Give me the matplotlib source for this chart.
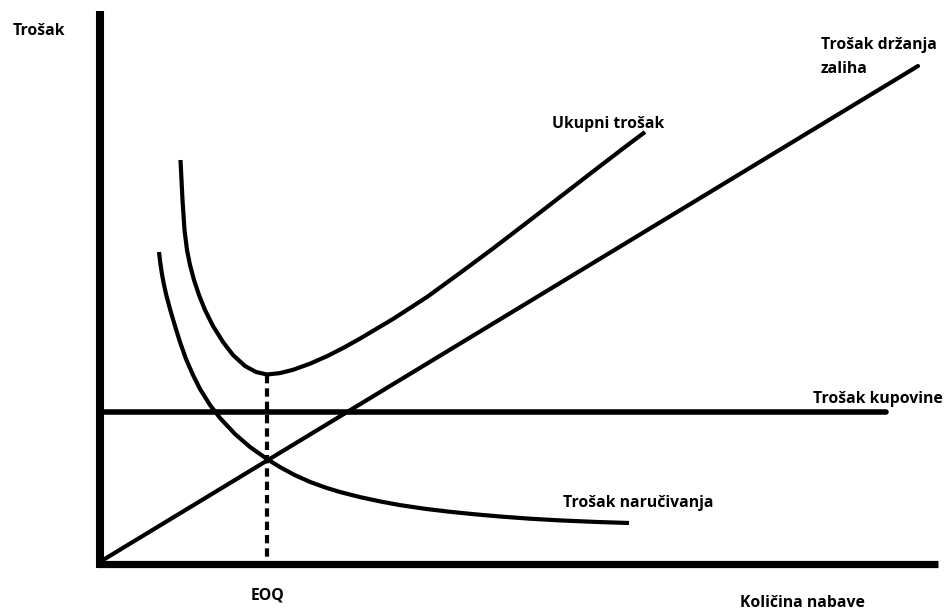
"""EOQ model: ordering, holding, purchase and total cost vs. order quantity."""
import matplotlib.pyplot as plt

# (quantity / cost, arbitrary units)
ukupni_x = [80.5, 82.5, 84.5, 87, 90, 94, 99, 105, 113, 123, 133, 145, 156, 167,
            180, 193, 210, 227, 243.5, 260, 293, 327, 360, 393, 427, 460, 493, 527, 545]
ukupni_y = [404, 364, 334, 314, 299, 284, 269, 254, 238, 222, 209, 198, 192, 189.5,
            190.9, 194.2, 200.3, 207.8, 216.2, 225.4, 245, 267, 291, 315.5, 341.5, 367, 392.5,
            418.5, 432]

narucivanje_x = [59, 60.3, 61.8, 63.8, 66.5, 70, 75, 80, 86, 93, 100, 110, 120, 135, 150,
                 167, 180, 195, 210, 225, 240, 260, 280, 300, 325, 350, 375, 400, 430,
                 460, 495, 529]
narucivanje_y = [312, 301, 291, 280, 268, 255, 238, 222, 205, 189, 175, 159, 146, 130, 117,
                 105, 96.9, 88.8, 82.1, 76.6, 72.0, 66.9, 62.6, 58.9, 55.2, 52.2, 49.7, 47.5,
                 45.3, 43.6, 42.1, 41.0]

drzanje_x = [3, 818]
drzanje_y = [4, 498]

kupovina_x = [0, 786]
kupovina_y = [152, 152]

eoq_x = 167
eoq_y = 189.5

fig = plt.figure(figsize=(9.5, 6.14), dpi=100)
ax = fig.add_axes([0, 0, 1, 1])
ax.set_xlim(-100, 850)
ax.set_ylim(-50, 564)
ax.axis('off')

# axes drawn as thick lines
ax.plot([0, 0], [-4, 553], color='black', lw=5.8, solid_capstyle='butt')
ax.plot([-3, 838], [0, 0], color='black', lw=5.2, solid_capstyle='butt')

ax.plot(drzanje_x, drzanje_y, color='black', lw=3, solid_capstyle='round')
ax.plot(kupovina_x, kupovina_y, color='black', lw=4, solid_capstyle='round')
ax.plot(narucivanje_x, narucivanje_y, color='black', lw=3, solid_capstyle='butt')
ax.plot(ukupni_x, ukupni_y, color='black', lw=3, solid_capstyle='butt')
ax.plot([eoq_x, eoq_x], [eoq_y, 0], color='black', lw=3, dashes=(2.0, 1.2))

font = dict(family='Open Sans', weight='bold', size=11.3, va='baseline')
ax.text(-87, 529, 'Trošak', ha='left', **font)
ax.text(721, 515, 'Trošak držanja', ha='left', **font)
ax.text(721, 491, 'zaliha', ha='left', **font)
ax.text(452, 436, 'Ukupni trošak', ha='left', **font)
ax.text(713, 161, 'Trošak kupovine', ha='left', **font)
ax.text(463, 57, 'Trošak naručivanja', ha='left', **font)
ax.text(168, -36, 'EOQ', ha='center', **font)
ax.text(765, -43, 'Količina nabave', ha='right', **font)

fig.savefig('out.png', dpi=100)
